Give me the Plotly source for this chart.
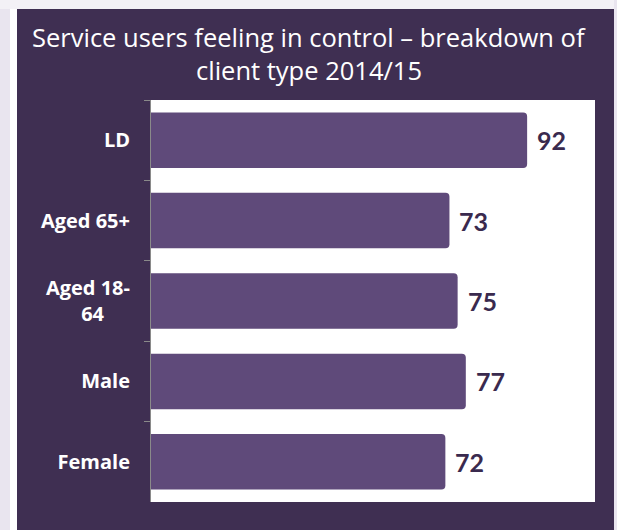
import plotly.graph_objects as go

categories = ["LD", "Aged 65+", "Aged 18-<br>64" + "\u00a0" * 5, "Male", "Female"]
values = [92, 73, 75, 77, 72]
title_lines = ["Service users feeling in control – breakdown of", "client type 2014/15"]

W, H = 617, 530
ML, MR, MT, MB = 151, 22, 100, 28
PW, PH = W - ML - MR, H - MT - MB

DARK = "#3f2f52"
BAR = "#5f4a7a"
LAV = "#e9e5ef"

def px_x(p):
    return (p - ML) / PW

def px_y(p):
    return 1 - (p - MT) / PH

fig = go.Figure()
fig.add_trace(go.Bar(
    x=values, y=categories, orientation="h",
    marker=dict(color=BAR, line=dict(width=0), cornerradius=4),
    width=0.69, hoverinfo="skip",
))

for c, v in zip(categories, values):
    fig.add_annotation(x=v, y=c, text=f"<b>{v}</b>", showarrow=False,
                       xanchor="left", xshift=8, yshift=0,
                       font=dict(family="Lato", size=25, color="#3a2a4e"))

for line, yc in zip(title_lines, [37, 70]):
    fig.add_annotation(xref="paper", yref="paper", x=px_x(309), y=px_y(yc),
                       text=line, showarrow=False, xanchor="center", yanchor="middle",
                       font=dict(family="Open Sans", size=25.5, color="white"))

shapes = [
    dict(type="rect", xref="paper", yref="paper", x0=px_x(0), x1=px_x(10), y0=px_y(0), y1=px_y(H), fillcolor=LAV, line_width=0, layer="below"),
    dict(type="rect", xref="paper", yref="paper", x0=px_x(10), x1=px_x(17), y0=px_y(9), y1=px_y(H), fillcolor="white", line_width=0, layer="below"),
    dict(type="rect", xref="paper", yref="paper", x0=px_x(0), x1=px_x(W), y0=px_y(0), y1=px_y(9), fillcolor="#f3f1f6", line_width=0, layer="below"),
    dict(type="rect", xref="paper", yref="paper", x0=px_x(614), x1=px_x(W), y0=px_y(0), y1=px_y(H), fillcolor=LAV, line_width=0, layer="below"),
]

fig.update_layout(
    width=W, height=H,
    margin=dict(l=ML, r=MR, t=MT, b=MB),
    paper_bgcolor=DARK, plot_bgcolor="white",
    showlegend=False,
    shapes=shapes,
    xaxis=dict(range=[0, 108.6], visible=False, fixedrange=True),
    yaxis=dict(autorange="reversed", tickson="boundaries", ticks="outside",
               ticklen=6, tickcolor="#8a8a8a", showline=True, linecolor="#8a8a8a",
               linewidth=1, showgrid=False, ticklabelstandoff=16,
               tickfont=dict(family="Open Sans", size=20, color="white", weight="bold"),
               fixedrange=True),
)

fig.write_html("out.html")
